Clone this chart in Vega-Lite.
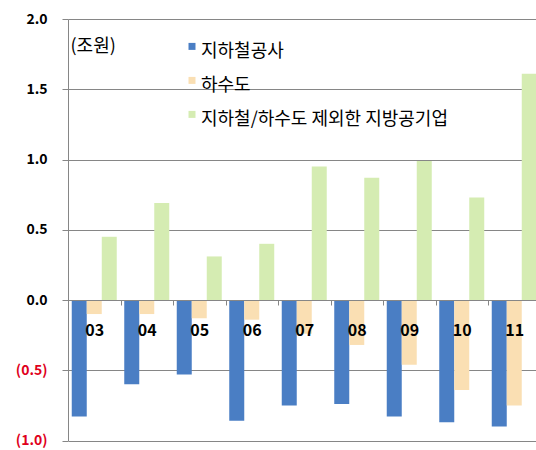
{
  "$schema": "https://vega.github.io/schema/vega-lite/v6.json",
  "autosize": "none",
  "padding": {"left": 68, "top": 19, "right": 0, "bottom": 10},
  "width": 472.5,
  "height": 421.5,
  "background": "white",
  "config": {
    "view": {"stroke": null},
    "font": "Noto Sans CJK KR"
  },
  "data": {
    "values": [
      {"year": "03", "series": "지하철공사", "value": -0.83},
      {"year": "03", "series": "하수도", "value": -0.10},
      {"year": "03", "series": "지하철/하수도 제외한 지방공기업", "value": 0.45},
      {"year": "04", "series": "지하철공사", "value": -0.60},
      {"year": "04", "series": "하수도", "value": -0.10},
      {"year": "04", "series": "지하철/하수도 제외한 지방공기업", "value": 0.69},
      {"year": "05", "series": "지하철공사", "value": -0.53},
      {"year": "05", "series": "하수도", "value": -0.13},
      {"year": "05", "series": "지하철/하수도 제외한 지방공기업", "value": 0.31},
      {"year": "06", "series": "지하철공사", "value": -0.86},
      {"year": "06", "series": "하수도", "value": -0.14},
      {"year": "06", "series": "지하철/하수도 제외한 지방공기업", "value": 0.40},
      {"year": "07", "series": "지하철공사", "value": -0.75},
      {"year": "07", "series": "하수도", "value": -0.24},
      {"year": "07", "series": "지하철/하수도 제외한 지방공기업", "value": 0.95},
      {"year": "08", "series": "지하철공사", "value": -0.74},
      {"year": "08", "series": "하수도", "value": -0.32},
      {"year": "08", "series": "지하철/하수도 제외한 지방공기업", "value": 0.87},
      {"year": "09", "series": "지하철공사", "value": -0.83},
      {"year": "09", "series": "하수도", "value": -0.46},
      {"year": "09", "series": "지하철/하수도 제외한 지방공기업", "value": 0.99},
      {"year": "10", "series": "지하철공사", "value": -0.87},
      {"year": "10", "series": "하수도", "value": -0.64},
      {"year": "10", "series": "지하철/하수도 제외한 지방공기업", "value": 0.73},
      {"year": "11", "series": "지하철공사", "value": -0.90},
      {"year": "11", "series": "하수도", "value": -0.75},
      {"year": "11", "series": "지하철/하수도 제외한 지방공기업", "value": 1.61}
    ]
  },
  "mark": {"type": "bar"},
  "encoding": {
    "x": {
      "field": "year", "type": "nominal",
      "scale": {"paddingInner": 0, "paddingOuter": 0},
      "axis": {
        "title": null,
        "orient": "bottom",
        "offset": -140.5,
        "labelAngle": 0,
        "tickBand": "extent",
        "tickSize": 5,
        "tickColor": "#868686",
        "domainColor": "#868686",
        "labelPadding": 17,
        "labelFontSize": 16,
        "labelFontWeight": "bold",
        "labelColor": "black",
        "zindex": 1
      }
    },
    "xOffset": {
      "field": "series",
      "sort": ["지하철공사", "하수도", "지하철/하수도 제외한 지방공기업"],
      "scale": {"paddingInner": 0, "paddingOuter": 0.25}
    },
    "y": {
      "field": "value", "type": "quantitative",
      "scale": {"domain": [-1, 2], "nice": false, "zero": false},
      "axis": {
        "title": "(조원)",
        "titleAngle": 0,
        "titleX": 2,
        "titleY": 27,
        "titleAlign": "left",
        "titleBaseline": "middle",
        "titleFontSize": 18,
        "titleFontWeight": "normal",
        "titleColor": "black",
        "values": [-1, -0.5, 0, 0.5, 1, 1.5, 2],
        "labelExpr": "datum.value < 0 ? '(' + format(-datum.value, '.1f') + ')' : format(datum.value, '.1f')",
        "labelColor": {"condition": {"test": "datum.value < 0", "value": "#e0001b"}, "value": "black"},
        "labelFontSize": 14,
        "labelFontWeight": "bold",
        "labelPadding": 15,
        "tickSize": 6,
        "tickColor": "#868686",
        "domainColor": "#868686",
        "gridColor": "#868686",
        "grid": true
      }
    },
    "color": {
      "field": "series", "type": "nominal",
      "scale": {
        "domain": ["지하철공사", "하수도", "지하철/하수도 제외한 지방공기업"],
        "range": ["#4a7ec4", "#fadfb3", "#d5ecb2"]
      },
      "legend": {
        "title": null,
        "orient": "none",
        "legendX": 115,
        "legendY": 24,
        "padding": 0,
        "symbolType": "M-1,-2.6L1,-2.6L1,-0.6L-1,-0.6Z",
        "symbolSize": 49,
        "symbolStrokeWidth": 0,
        "labelFontSize": 18,
        "labelLimit": 0,
        "labelColor": "black",
        "labelOffset": 0,
        "rowPadding": 15
      }
    }
  }
}
